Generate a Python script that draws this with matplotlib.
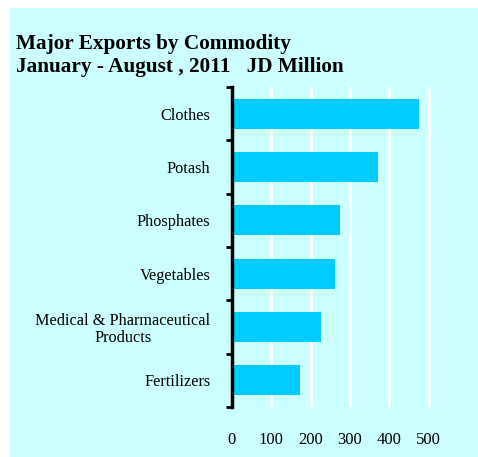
import matplotlib.pyplot as plt
from matplotlib.patches import Rectangle

# exports by commodity, JD million
commodities = ['Clothes', 'Potash', 'Phosphates', 'Vegetables',
               'Medical & Pharmaceutical\nProducts', 'Fertilizers']
values = [475, 371, 274, 262, 226, 173]
xticks = [0, 100, 200, 300, 400, 500]

plt.rcParams['font.family'] = ['Liberation Serif', 'DejaVu Serif']

fig = plt.figure(figsize=(4.78, 4.57), dpi=100)
fig.patch.set_facecolor('white')
# light cyan backdrop
fig.patches.append(Rectangle((10 / 478, 0), 468 / 478, 449 / 457,
                             transform=fig.transFigure, facecolor='#CCFFFF',
                             edgecolor='none', zorder=-1))

ax = fig.add_axes([232 / 478, 50 / 457, 236 / 478, 320 / 457])
ax.set_facecolor('none')

ypos = list(range(len(commodities)))[::-1]
ax.barh(ypos, values, height=0.56, color='#00CCFF', zorder=2)

ax.set_xlim(0, 600)
ax.set_ylim(-0.5, len(commodities) - 0.5)
ax.set_xticks(xticks)
ax.set_xticklabels([str(t) for t in xticks], fontsize=12)
for t in xticks[1:]:
    ax.axvline(t, color='white', lw=2, zorder=1)
ax.tick_params(axis='x', length=0, pad=18)

ax.set_yticks([y + 0.5 for y in range(-1, len(commodities))])
ax.set_yticklabels([])
ax.set_yticks(ypos, minor=True)
ax.set_yticklabels(commodities, minor=True, fontsize=11.7)
ax.tick_params(axis='y', which='major', length=4, width=2, direction='out')
ax.tick_params(axis='y', which='minor', length=0, pad=15.5)
for lab in ax.get_yticklabels(minor=True):
    lab.set_multialignment('center')
    lab.set_linespacing(1.05)

for side in ['top', 'right', 'bottom']:
    ax.spines[side].set_visible(False)
ax.spines['left'].set_linewidth(2.5)

fig.text(16 / 478, 1 - 77 / 457, 'Major Exports by Commodity\nJanuary - August , 2011   JD Million',
         fontsize=15.3, fontweight='bold', ha='left', va='bottom', linespacing=1.17)

fig.savefig('out.png', dpi=100)
